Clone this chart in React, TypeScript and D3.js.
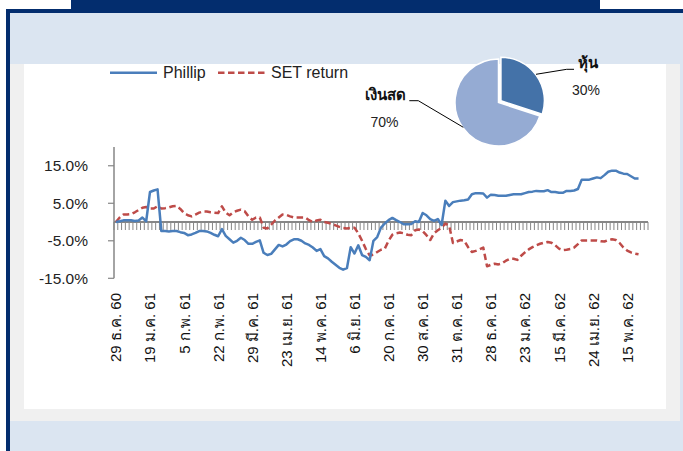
import React from "react";
import * as d3 from "d3";

const NUM_CATEGORIES = 141;
const LABEL_STEP = 9;

const tickLabels = [
  "29 ธ.ค. 60", "19 ม.ค. 61", "5 ก.พ. 61", "22 ก.พ. 61", "29 มี.ค. 61", "23 เม.ย. 61",
  "14 พ.ค. 61", "6 มิ.ย. 61", "20 ก.ค. 61", "30 ส.ค. 61", "31 ต.ค. 61", "28 ธ.ค. 61",
  "23 ม.ค. 62", "15 มี.ค. 62", "24 เม.ย. 62", "15 พ.ค. 62",
];

const phillip = [
  0.0, 0.2, 0.45, 0.5, 0.45, 0.3, 0.4, 1.2, 0.2, 8.0,
  8.4, 8.7, -2.4, -2.4, -2.5, -2.4, -2.4, -2.7, -2.9, -3.5,
  -3.3, -2.9, -2.4, -2.4, -2.5, -2.9, -3.4, -3.8, -1.9, -3.7,
  -4.6, -5.5, -5.0, -4.2, -4.8, -5.8, -5.8, -5.3, -4.9, -8.2,
  -8.8, -8.5, -7.3, -6.1, -6.5, -6.0, -5.1, -4.6, -4.6, -5.0,
  -5.7, -6.1, -6.8, -7.7, -7.2, -9.1, -9.7, -10.6, -11.4, -12.2,
  -12.7, -12.3, -6.7, -8.4, -6.2, -8.8, -9.3, -10.2, -5.0, -4.0,
  -1.5, -0.4, 0.5, 1.1, 0.5, 0.0, -0.6, -0.6, -0.5, 0.2,
  0.0, 2.4, 1.8, 0.8, 0.3, 0.8, -0.8, 5.7, 4.3, 5.3,
  5.5, 5.7, 5.8, 6.0, 7.4, 7.7, 7.7, 7.6, 6.5, 7.3,
  7.2, 7.0, 7.0, 7.0, 7.2, 7.4, 7.4, 7.4, 7.7, 8.0,
  8.1, 8.3, 8.2, 8.2, 8.5, 8.0, 8.0, 7.8, 7.8, 8.3,
  8.3, 8.4, 8.8, 11.3, 11.3, 11.3, 11.6, 11.9, 11.7, 12.5,
  13.4, 13.7, 13.7, 13.2, 12.9, 12.8, 12.2, 11.6, 11.6,
];

const setReturn = [
  0.0, 1.2, 2.0, 2.0, 2.1, 2.6, 3.2, 3.8, 4.0, 3.6,
  3.6, 4.2, 3.6, 3.7, 3.9, 4.2, 4.3, 3.5, 2.4, 1.8,
  1.5, 2.0, 2.5, 2.8, 2.8, 2.6, 2.5, 2.4, 4.2, 2.5,
  1.8, 2.6, 3.0, 3.3, 2.9, 1.5, 0.6, 1.2, 1.2, -1.5,
  -1.7, -0.7, 0.4, 1.2, 2.0, 1.9, 1.5, 1.2, 1.2, 1.2,
  1.2, 0.5, 0.0, 0.4, 0.6, 0.0, -0.2, -0.5, -0.9, -1.3,
  -1.6, -1.7, -1.6, -1.5, -3.0, -5.0, -7.2, -8.9, -8.7, -8.0,
  -7.4, -7.1, -5.0, -3.4, -3.0, -2.8, -3.0, -3.4, -3.5, -2.2,
  -2.0, -2.4, -3.5, -4.8, -3.0, -2.2, -1.5, -0.4, -1.0, -5.6,
  -5.2, -4.8, -5.0, -6.7, -8.0, -7.7, -7.3, -6.8, -11.8, -11.4,
  -11.1, -11.3, -11.0, -10.3, -9.8, -9.8, -10.1, -9.0, -8.1, -7.3,
  -6.7, -6.2, -5.8, -5.5, -5.3, -5.5, -6.2, -7.1, -7.5, -7.4,
  -7.2, -6.8, -5.9, -4.9, -4.9, -4.9, -4.9, -4.9, -5.1, -5.2,
  -4.8, -4.6, -4.8, -5.6, -6.8, -7.6, -8.1, -8.4, -8.6,
];

const yTicks = [-15, -5, 5, 15];

const pieLabels = ["หุ้น", "เงินสด"];
const pieValues = [30, 70];

const seriesNames = ["Phillip", "SET return"];

const FONT = "'Liberation Sans', Arial, Helvetica, sans-serif";

export default function App() {
  const W = 683;
  const H = 451;

  const x = d3.scaleBand<number>().domain(d3.range(NUM_CATEGORIES)).range([114, 648]).paddingInner(0).paddingOuter(0);
  const bw = x.bandwidth();
  const cx = (i: number) => (x(i) as number) + bw / 2;
  const y = d3.scaleLinear().domain([-15, 20]).range([278.3, 147]);

  const line = d3.line<number>().x((_, i) => cx(i)).y((d) => y(d));

  const tickXs = d3.range(NUM_CATEGORIES + 1).map((i) => 114 + i * bw);

  // pie
  const pie = d3.pie<number>().sort(null).startAngle(0).endAngle(2 * Math.PI)(pieValues);
  const arc = d3.arc<d3.PieArcDatum<number>>().innerRadius(0).outerRadius(43.5);
  const pcx = 498.5;
  const pcy = 102.5;
  const explode = [3.0, 0];

  const blue = "#4a7ebb";
  const red = "#be4b48";
  const axisGray = "#868686";

  return (
    <svg width={W} height={H} style={{ position: "absolute", left: 0, top: 0, display: "block" }} fontFamily={FONT}>
      <rect x={0} y={0} width={W} height={H} fill="#ffffff" />
      {/* frame */}
      <rect x={6} y={9} width={W} height={H} fill="#dbe5f1" />
      <rect x={71} y={0} width={529} height={10} fill="#032d6e" />
      <rect x={6} y={9} width={W} height={4} fill="#032d6e" />
      <rect x={6} y={9} width={4} height={H} fill="#032d6e" />
      <rect x={10} y={64} width={670} height={357} fill="#f0f0f0" />
      <rect x={24} y={64} width={642} height={345} fill="#ffffff" />

      {/* axes */}
      <line x1={114} x2={114} y1={147} y2={278.3} stroke={axisGray} strokeWidth={1.5} />
      {yTicks.map((t) => (
        <g key={t}>
          <line x1={108} x2={114} y1={y(t)} y2={y(t)} stroke={axisGray} strokeWidth={1.2} />
          <text x={88} y={y(t)} dy="0.35em" textAnchor="end" fontSize={15.5} fill="#222">
            {t.toFixed(1) + "%"}
          </text>
        </g>
      ))}
      {tickXs.map((tx, i) => (
        <line key={i} x1={tx} x2={tx} y1={y(0)} y2={y(0) + 8} stroke={axisGray} strokeWidth={1} />
      ))}
      <line x1={114} x2={648} y1={y(0)} y2={y(0)} stroke={axisGray} strokeWidth={2} />

      {tickLabels.map((lab, k) => {
        const px = cx(k * LABEL_STEP);
        return (
          <text
            key={lab}
            transform={`translate(${px + 5.5},293) rotate(-90)`}
            textAnchor="end"
            fontSize={15}
            fill="#111"
          >
            {lab}
          </text>
        );
      })}

      {/* series */}
      <path d={line(setReturn) || ""} fill="none" stroke={red} strokeWidth={2.5} strokeDasharray="6.5,3.5" strokeLinejoin="round" />
      <path d={line(phillip) || ""} fill="none" stroke={blue} strokeWidth={2.5} strokeLinejoin="round" />

      {/* legend */}
      <line x1={110} x2={157} y1={72.7} y2={72.7} stroke={blue} strokeWidth={2.5} />
      <text x={163} y={78} fontSize={16} fill="#222">{seriesNames[0]}</text>
      <line x1={218} x2={265} y1={72.7} y2={72.7} stroke={red} strokeWidth={2.5} strokeDasharray="6.5,3.5" />
      <text x={271} y={78} fontSize={16} fill="#222">{seriesNames[1]}</text>

      {/* pie */}
      {pie.map((p, i) => {
        const mid = (p.startAngle + p.endAngle) / 2;
        const ox = Math.sin(mid) * explode[i];
        const oy = -Math.cos(mid) * explode[i];
        return (
          <path
            key={i}
            d={arc(p) || ""}
            transform={`translate(${pcx + ox},${pcy + oy})`}
            fill={i === 0 ? "#4472a8" : "#95abd3"}
            stroke="#ffffff"
            strokeWidth={1.5}
          />
        );
      })}
      <polyline points="536,74.3 566.7,69.3 574,69.3" fill="none" stroke="#000" strokeWidth={1} />
      <text x={588} y={68} textAnchor="middle" fontSize={15} fontWeight="bold" fill="#111">{pieLabels[0]}</text>
      <text x={586} y={95} textAnchor="middle" fontSize={14} fill="#222">{pieValues[0] + "%"}</text>
      <polyline points="409.3,100.7 418.3,100.7 463.3,127.3" fill="none" stroke="#000" strokeWidth={1} />
      <text x={385} y={100} textAnchor="middle" fontSize={15} fontWeight="bold" fill="#111">{pieLabels[1]}</text>
      <text x={384.5} y={127} textAnchor="middle" fontSize={14} fill="#222">{pieValues[1] + "%"}</text>
    </svg>
  );
}
